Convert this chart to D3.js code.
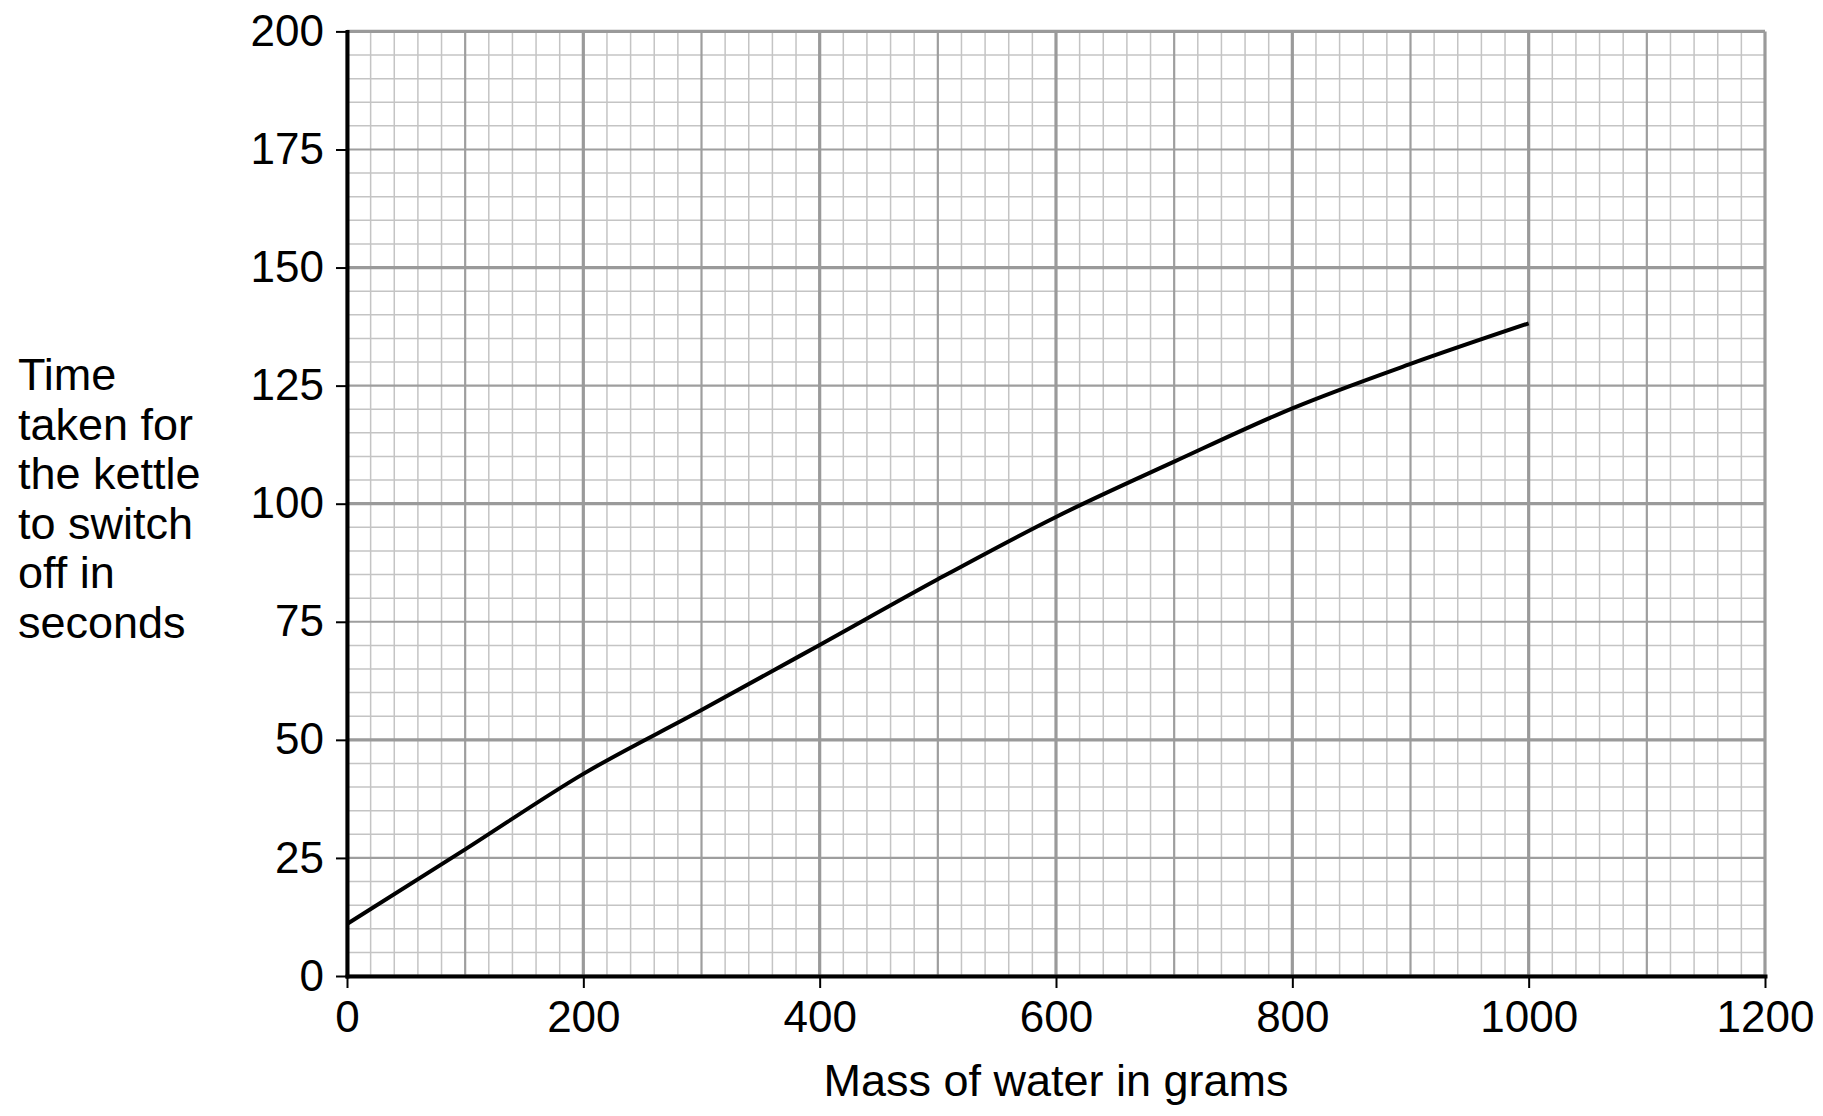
<!DOCTYPE html>
<html>
<head>
<meta charset="utf-8">
<script src="https://cdn.jsdelivr.net/npm/d3@7"></script>
<style>
  body { margin: 0; background: #fff; }
  text { font-family: "Liberation Sans", Arial, sans-serif; fill: #000; }
</style>
</head>
<body>
<div id="chart"></div>
<script>
// data
var mass = [0, 100, 200, 300, 400, 500, 600, 700, 800, 900, 1000];
var time = [11, 26.8, 42.8, 56.3, 70.1, 84.0, 97.2, 108.9, 120.2, 129.6, 138.2];
var xTicks = [0, 200, 400, 600, 800, 1000, 1200];
var yTicks = [0, 25, 50, 75, 100, 125, 150, 175, 200];
var yTitle = ["Time", "taken for", "the kettle", "to switch", "off in", "seconds"];
var xTitle = "Mass of water in grams";

var width = 1823, height = 1116;
var margin = {left: 347, top: 31.4, right: 58, bottom: 140};
var w = width - margin.left - margin.right;
var h = height - margin.top - margin.bottom;

var svg = d3.select("#chart").append("svg")
    .attr("width", width)
    .attr("height", height);

var g = svg.append("g").attr("transform", "translate(" + margin.left + "," + margin.top + ")");

var x = d3.scaleLinear().domain([0, 1200]).range([0, w]);
var y = d3.scaleLinear().domain([0, 200]).range([h, 0]);

// graph paper: minor every 20 g / 5 s, medium every 100 g / 25 s, major every 200 g / 50 s
function level(v, mid, big) {
    if (v % big == 0) return 2;
    if (v % mid == 0) return 1;
    return 0;
}
var gridStyle = [
    {stroke: "#c4c4c4", w: 1.5},
    {stroke: "#9e9e9e", w: 2.2},
    {stroke: "#9a9a9a", w: 3.2}
];
var xs = d3.range(0, 1201, 20).map(function(v) { return {v: v, l: level(v, 100, 200)}; });
var ys = d3.range(0, 201, 5).map(function(v) { return {v: v, l: level(v, 25, 50)}; });

[0, 1, 2].forEach(function(l) {
    g.append("g").selectAll("line")
        .data(xs.filter(function(d) { return d.l == l; }))
        .enter().append("line")
        .attr("x1", function(d) { return x(d.v); })
        .attr("x2", function(d) { return x(d.v); })
        .attr("y1", 0).attr("y2", h)
        .attr("stroke", gridStyle[l].stroke)
        .attr("stroke-width", gridStyle[l].w);
    g.append("g").selectAll("line")
        .data(ys.filter(function(d) { return d.l == l; }))
        .enter().append("line")
        .attr("y1", function(d) { return y(d.v); })
        .attr("y2", function(d) { return y(d.v); })
        .attr("x1", 0).attr("x2", w)
        .attr("stroke", gridStyle[l].stroke)
        .attr("stroke-width", gridStyle[l].w);
});

// the curve
var line = d3.line()
    .x(function(d) { return x(d[0]); })
    .y(function(d) { return y(d[1]); })
    .curve(d3.curveMonotoneX);

g.append("path")
    .datum(d3.zip(mass, time))
    .attr("d", line)
    .attr("fill", "none")
    .attr("stroke", "#000")
    .attr("stroke-width", 4)
    .attr("stroke-linejoin", "round");

// axes
var xAxis = g.append("g")
    .attr("transform", "translate(0," + h + ")")
    .call(d3.axisBottom(x).tickValues(xTicks).tickFormat(d3.format("d"))
        .tickSize(12).tickSizeOuter(0).tickPadding(13));
var yAxis = g.append("g")
    .call(d3.axisLeft(y).tickValues(yTicks).tickFormat(d3.format("d"))
        .tickSize(11).tickSizeOuter(0).tickPadding(12));

[xAxis, yAxis].forEach(function(a) {
    a.select(".domain").attr("stroke", "#000").attr("stroke-width", 4).attr("stroke-linecap", "square");
    a.selectAll(".tick line").attr("stroke", "#000").attr("stroke-width", 2);
    a.selectAll(".tick text")
        .attr("fill", "#000")
        .style("font-family", "'Liberation Sans', Arial, sans-serif")
        .style("font-size", "44px");
});

// titles
svg.append("text")
    .attr("x", margin.left + w / 2)
    .attr("y", 1096)
    .attr("text-anchor", "middle")
    .style("font-size", "45px")
    .text(xTitle);

svg.append("text")
    .attr("x", 18)
    .attr("y", 390)
    .style("font-size", "45px")
    .selectAll("tspan")
    .data(yTitle)
    .enter().append("tspan")
    .attr("x", 18)
    .attr("dy", function(d, i) { return i == 0 ? 0 : 49.6; })
    .text(function(d) { return d; });
</script>
</body>
</html>
